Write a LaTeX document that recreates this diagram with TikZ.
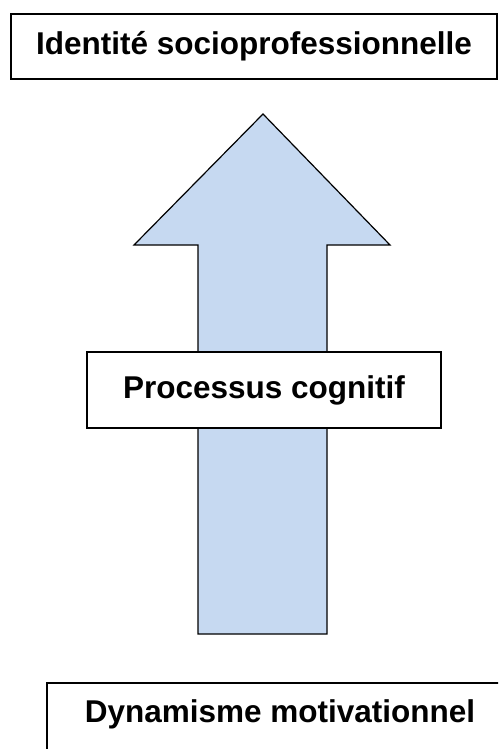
\documentclass[tikz,border=0pt]{standalone}
\usepackage{fontspec}
\setmainfont{Liberation Sans}
\usepackage{tikz}
\definecolor{arrowblue}{HTML}{C6D9F1}

\begin{document}
\begin{tikzpicture}[x=1pt,y=-1pt,
  box/.style={draw,line width=1.5pt,fill=white,inner sep=0pt,font=\bfseries\fontsize{31.5}{36}\selectfont}]
  \useasboundingbox (0,0) rectangle (498,749);
  \clip (0,0) rectangle (498,749);

  % the big arrow
  \draw[fill=arrowblue,line width=1.2pt] (263,114) -- (390,245) -- (327,245) -- (327,634)
        -- (198,634) -- (198,245) -- (134,245) -- cycle;

  \node [box,minimum width=486pt,minimum height=65pt] (id) at (254,46.5) {Identit\'e socioprofessionnelle};
  \node [box,minimum width=354pt,minimum height=76pt] (proc) at (264,390) {Processus cognitif};
  \node [box,minimum width=466pt,minimum height=90pt] (dynbox) at (280,728) {};
  \node [font=\bfseries\fontsize{31.5}{36}\selectfont,inner sep=0pt] (dyn) at (280,714) {Dynamisme motivationnel};
\end{tikzpicture}
\end{document}
